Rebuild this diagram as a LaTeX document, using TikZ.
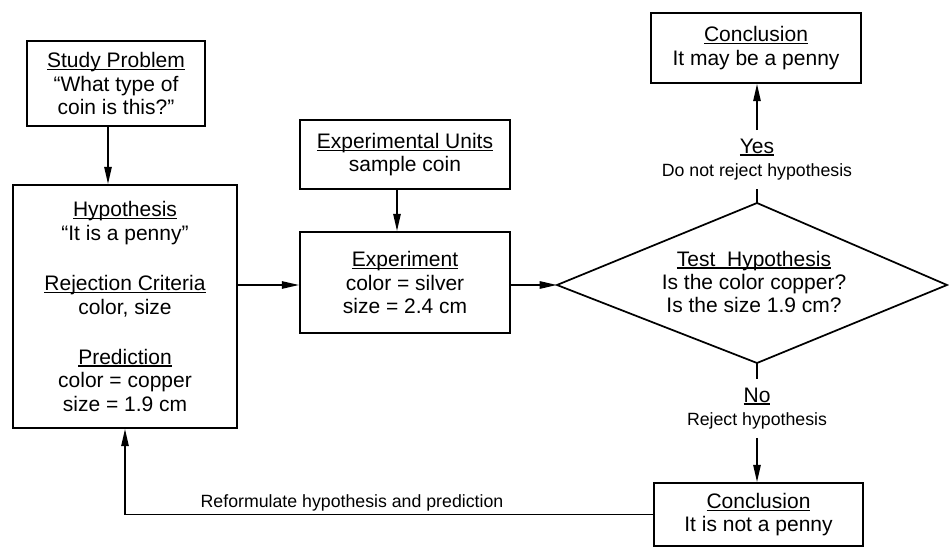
\documentclass[tikz,border=0pt]{standalone}
\usepackage{fontspec}
\setmainfont{Liberation Sans}
\usetikzlibrary{arrows.meta}
\newcommand{\mainf}{\fontsize{15.75}{17.6}\selectfont}
\newcommand{\smallf}{\fontsize{13.3}{16}\selectfont}
\newcommand{\uln}[1]{\setbox0\hbox{#1}\rlap{\rule[-1.9pt]{\wd0}{0.9pt}}\box0}
\begin{document}
\begin{tikzpicture}[x=0.75pt,y=-0.75pt,
  box/.style={draw,line width=1.3pt,inner sep=0pt,align=center,font=\mainf},
  arr/.style={line width=1.3pt,-{Triangle[length=13pt,width=5.5pt]}},
  ln/.style={line width=1.3pt},
  lbl/.style={align=center,inner sep=0pt,outer sep=6.5pt,font=\mainf}]
\useasboundingbox (0,0) rectangle (949,548);

% boxes
\node[box,minimum width=133.5pt,minimum height=63.75pt] (sp) at (116,83.5)
  {\uln{Study Problem}\\“What type of\\coin is this?”};
\node[box,minimum width=168pt,minimum height=182.25pt] (hyp) at (125,306.5)
  {\uln{Hypothesis}\\“It is a penny”\\[20pt]\uln{Rejection Criteria}\\color, size\\[20pt]\uln{Prediction}\\color = copper\\size = 1.9 cm};
\node[box,minimum width=157.5pt,minimum height=51.75pt] (eu) at (405,154.5)
  {\uln{Experimental Units}\\sample coin};
\node[box,minimum width=157.5pt,minimum height=75.75pt] (ex) at (405,282.5)
  {\uln{Experiment}\\color = silver\\size = 2.4 cm};
\node[box,minimum width=157.5pt,minimum height=52.5pt] (c1) at (756,48)
  {\uln{Conclusion}\\It may be a penny};
\node[box,minimum width=156.75pt,minimum height=47.25pt] (c2) at (758.5,514.5)
  {\uln{Conclusion}\\It is not a penny};

% diamond
\coordinate (dl) at (557,285);
\coordinate (dt) at (757,203);
\coordinate (dr) at (947,285);
\coordinate (db) at (757,363);
\draw[ln] (dl) -- (dt) -- (dr) -- (db) -- cycle;
\node[align=center,inner sep=0pt,font=\mainf] (test) at (754,282)
  {\uln{Test\ \ Hypothesis}\\Is the color copper?\\Is the size 1.9 cm?};

% yes / no labels
\node[lbl] (yes) at (757,159.5) {\uln{Yes}\\\smallf Do not reject hypothesis};
\node[lbl] (no) at (757,408.5) {\uln{No}\\\smallf Reject hypothesis};

% connectors
\coordinate (sx) at (108,0);
\coordinate (ux) at (397,0);
\coordinate (my) at (0,285);
\draw[arr] (sp.south -| sx) -- (hyp.north -| sx);
\draw[arr] (eu.south -| ux) -- (ex.north -| ux);
\draw[arr] (hyp.east |- my) -- (ex.west |- my);
\draw[arr] (ex.east |- my) -- (dl);
\draw[ln] (dt) -- (yes.south);
\draw[arr] (yes.north) -- (yes.north |- c1.south);
\draw[ln] (db) -- (no.north);
\draw[arr] (no.south) -- (no.south |- c2.north);
\draw[arr] (c2.west) -| (hyp.south);
\node[font=\smallf,anchor=base,inner sep=0pt] (rf) at (352,508) {Reformulate hypothesis and prediction};
\end{tikzpicture}
\end{document}
